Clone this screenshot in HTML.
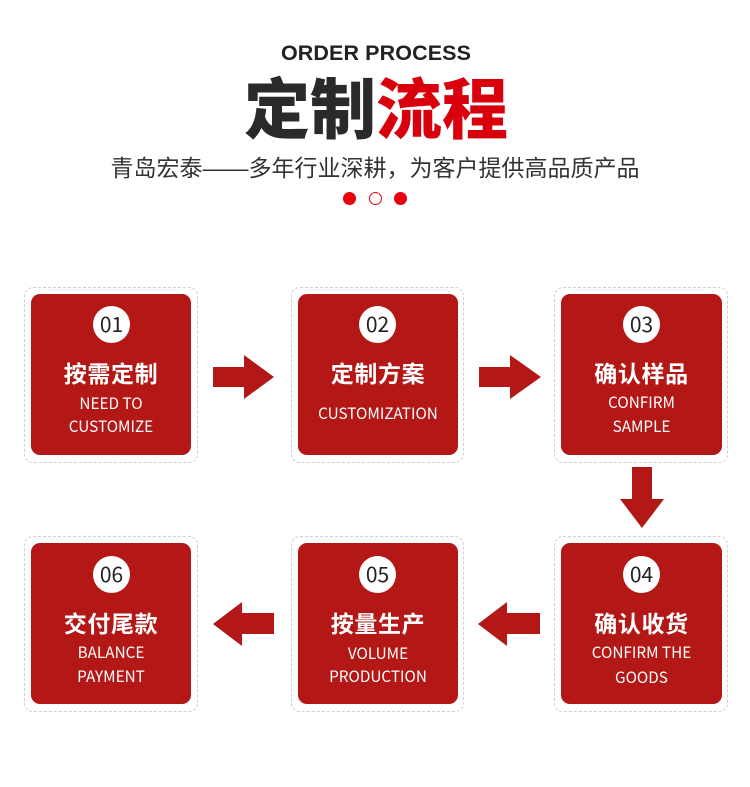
<!DOCTYPE html>
<html><head><meta charset="utf-8">
<style>
*{margin:0;padding:0;box-sizing:border-box}
html,body{width:750px;height:787px;background:#fff;overflow:hidden}
body{position:relative;font-family:"Liberation Sans","Noto Sans CJK SC",sans-serif}
.abs{position:absolute}
.en-h{left:0;width:752px;top:40px;text-align:center;font:bold 21.5px/26px "Liberation Sans",sans-serif;color:#222;letter-spacing:0.1px}
.title{left:0;width:752px;top:70px;text-align:center;font-family:"Noto Sans CJK SC",sans-serif;font-weight:900;font-size:66px;line-height:70px;color:#2a2a2a;letter-spacing:0px}
.title span{color:#d8000d}
.sub{left:0;width:750px;top:153px;text-align:center;font-family:"Liberation Sans","Noto Sans CJK SC",sans-serif;font-size:23px;line-height:30px;color:#333;font-weight:400}
.dot{width:13px;height:13px;border-radius:50%;top:192px}
.outer{border:1px dashed #cfcfcf;border-radius:9px}
.inner{background:#b31816;border-radius:9px}
.circ{width:37px;height:37px;border-radius:50%;background:#fff;color:#222;text-align:center;font:400 21px/37px "Noto Sans CJK SC","Liberation Sans",sans-serif}
.t{text-align:center;color:#fff;font-family:"Noto Sans CJK SC",sans-serif;font-weight:700;font-size:23px;line-height:30px;letter-spacing:0.6px}
.e{text-align:center;color:#fff;font-family:"Noto Sans CJK SC","Liberation Sans",sans-serif;font-weight:400;font-size:15.3px;line-height:20px}
</style></head><body>

<div class="abs en-h">ORDER PROCESS</div>
<div class="abs title">定制<span>流程</span></div>
<div class="abs sub">青岛宏泰——多年行业深耕，为客户提供高品质产品</div>
<div class="abs dot" style="left:343px;background:#e8000f"></div>
<div class="abs dot" style="left:369px;border:1.5px solid #e8000f;background:#fff"></div>
<div class="abs dot" style="left:394px;background:#e8000f"></div>

<!-- Row 1 -->
<div class="abs outer" style="left:24px;top:287px;width:174px;height:176px"></div>
<div class="abs inner" style="left:31px;top:294px;width:160px;height:161px"></div>
<div class="abs circ" style="left:93px;top:306px">01</div>
<div class="abs t" style="left:31px;width:160px;top:357px">按需定制</div>
<div class="abs e" style="left:31px;width:160px;top:393px">NEED TO</div>
<div class="abs e" style="left:31px;width:160px;top:416px">CUSTOMIZE</div>

<div class="abs outer" style="left:291px;top:287px;width:173px;height:176px"></div>
<div class="abs inner" style="left:298px;top:294px;width:160px;height:161px"></div>
<div class="abs circ" style="left:359px;top:306px">02</div>
<div class="abs t" style="left:298px;width:160px;top:357px">定制方案</div>
<div class="abs e" style="left:298px;width:160px;top:403px">CUSTOMIZATION</div>

<div class="abs outer" style="left:554px;top:287px;width:174px;height:176px"></div>
<div class="abs inner" style="left:561px;top:294px;width:161px;height:161px"></div>
<div class="abs circ" style="left:623px;top:306px">03</div>
<div class="abs t" style="left:561px;width:161px;top:357px">确认样品</div>
<div class="abs e" style="left:561px;width:161px;top:392px">CONFIRM</div>
<div class="abs e" style="left:561px;width:161px;top:416px">SAMPLE</div>

<!-- Row 2 -->
<div class="abs outer" style="left:24px;top:536px;width:174px;height:176px"></div>
<div class="abs inner" style="left:31px;top:543px;width:160px;height:161px"></div>
<div class="abs circ" style="left:93px;top:556px">06</div>
<div class="abs t" style="left:31px;width:160px;top:607px">交付尾款</div>
<div class="abs e" style="left:31px;width:160px;top:642px">BALANCE</div>
<div class="abs e" style="left:31px;width:160px;top:666px">PAYMENT</div>

<div class="abs outer" style="left:291px;top:536px;width:173px;height:176px"></div>
<div class="abs inner" style="left:298px;top:543px;width:160px;height:161px"></div>
<div class="abs circ" style="left:359px;top:556px">05</div>
<div class="abs t" style="left:298px;width:160px;top:607px">按量生产</div>
<div class="abs e" style="left:298px;width:160px;top:643px">VOLUME</div>
<div class="abs e" style="left:298px;width:160px;top:666px">PRODUCTION</div>

<div class="abs outer" style="left:554px;top:536px;width:174px;height:176px"></div>
<div class="abs inner" style="left:561px;top:543px;width:161px;height:161px"></div>
<div class="abs circ" style="left:623px;top:556px">04</div>
<div class="abs t" style="left:561px;width:161px;top:607px">确认收货</div>
<div class="abs e" style="left:561px;width:161px;top:642px">CONFIRM THE</div>
<div class="abs e" style="left:561px;width:161px;top:667px">GOODS</div>

<!-- Arrows -->
<svg class="abs" style="left:0;top:0" width="750" height="787" viewBox="0 0 750 787">
  <g fill="#b31816">
    <polygon points="213,367 244,367 244,355 274,377 244,399 244,387 213,387"/>
    <polygon points="479,367 510,367 510,355 541,377 510,399 510,387 479,387"/>
    <polygon points="632,467 652,467 652,499 664,499 642,528 620,499 632,499"/>
    <polygon points="274,613 242,613 242,602 213,624 242,646 242,634 274,634"/>
    <polygon points="540,613 507,613 507,602 478,624 507,646 507,634 540,634"/>
  </g>
</svg>
</body></html>
